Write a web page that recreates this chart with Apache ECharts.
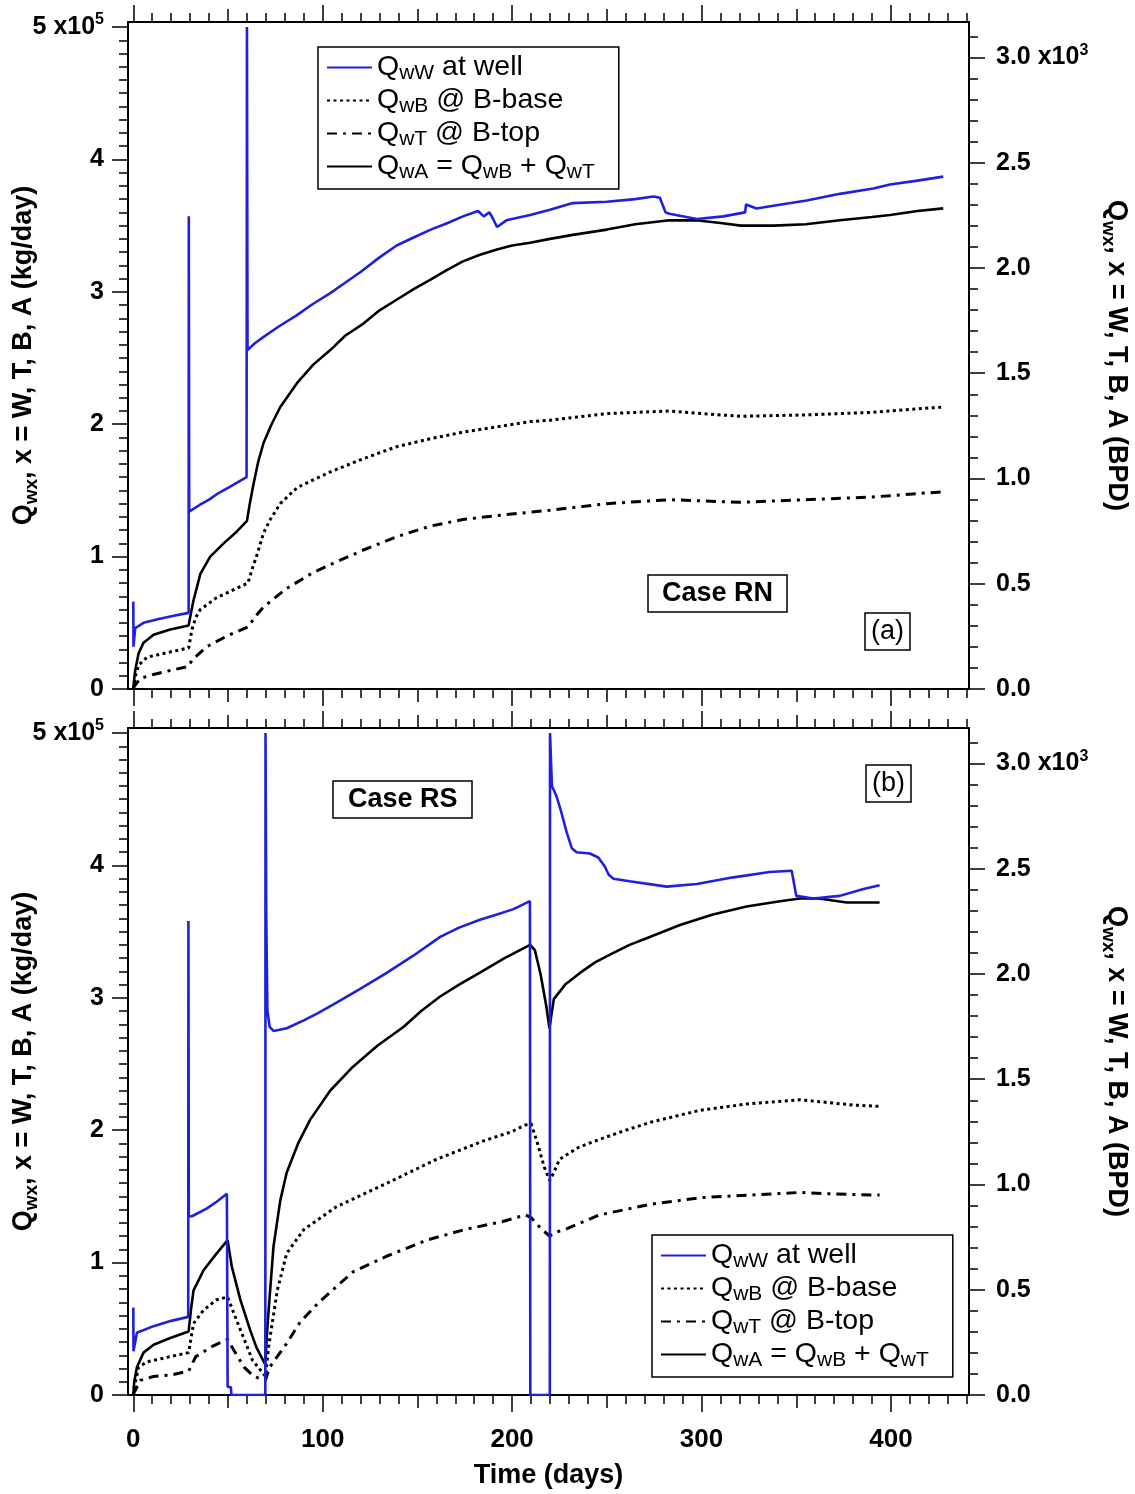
<!DOCTYPE html>
<html>
<head>
<meta charset="utf-8">
<title>Water rates, Case RN / RS</title>
<script src="https://cdn.jsdelivr.net/npm/echarts@6/dist/echarts.min.js"></script>
</head>
<body style="margin:0;background:#fff">
<div id="main" style="width:1135px;height:1494px;"></div>
<script>
// rates in 10^5 kg/day, time in days
// ---- panel (a), Case RN ----
var wellA = [[0,0.66],[0.1,0.32],[1,0.46],[5.4,0.50],[14,0.53],[22,0.555],[29.2,0.575],[29.3,3.57],[29.5,1.34],
  [35,1.39],[40,1.43],[45,1.48],[50,1.52],[55,1.56],[59.8,1.60],[60,5.0],[60.3,2.56],[64,2.61],[68.8,2.66],
  [77,2.74],[86,2.82],[95,2.91],[104,2.99],[112,3.07],[120,3.15],[130,3.26],[139,3.35],[148,3.41],[157,3.47],
  [166,3.52],[174,3.57],[182,3.61],[185,3.57],[188,3.60],[190,3.55],[192,3.49],[197,3.54],[209.5,3.58],
  [220,3.62],[232,3.67],[250,3.68],[265,3.70],[274.6,3.72],[278,3.71],[281,3.60],[283,3.59],[297.5,3.55],
  [311.5,3.57],[323,3.60],[323.5,3.66],[329,3.63],[342,3.66],[355.5,3.69],[373,3.74],[390.7,3.78],
  [399.5,3.81],[414,3.84],[427.6,3.87]];
var baseA = [[0,0],[0.5,0.04],[1,0.09],[2.8,0.18],[7.2,0.24],[19.5,0.28],[29.2,0.31],[31,0.45],[33,0.54],
  [35.4,0.60],[44,0.69],[53,0.75],[60.5,0.80],[62.6,0.90],[65,1.0],[68.8,1.18],[72.3,1.28],[77.6,1.40],
  [86.4,1.52],[95,1.58],[104,1.64],[121.5,1.74],[139,1.83],[156.7,1.89],[174,1.94],[192,1.98],[209.5,2.02],
  [220,2.03],[250,2.08],[283,2.10],[300,2.08],[320.7,2.06],[355,2.07],[390,2.09],[427.6,2.13]];
var topA = [[0,0],[0.5,0.02],[3.7,0.08],[10.7,0.11],[19.5,0.14],[29.2,0.17],[31,0.22],[38.9,0.32],[49.4,0.40],
  [60.8,0.47],[64,0.54],[68.8,0.62],[81,0.76],[95,0.88],[104,0.94],[121.5,1.05],[139,1.15],[156.7,1.23],
  [174,1.28],[192,1.31],[220,1.35],[250,1.40],[283,1.43],[320,1.41],[355,1.43],[390,1.45],[427.6,1.49]];
var sumA = [[0,0],[0.5,0.08],[1,0.14],[2.8,0.27],[5.4,0.35],[10.7,0.41],[19.5,0.45],[29.2,0.48],[30.5,0.58],
  [31.8,0.67],[35.4,0.87],[40.6,1.0],[47.7,1.10],[54.7,1.19],[60,1.27],[61.5,1.40],[63.5,1.55],[66,1.72],
  [68.8,1.86],[73,2.0],[77.6,2.13],[86.4,2.31],[95,2.45],[104,2.56],[112,2.67],[121.5,2.76],[130,2.86],
  [139,2.94],[148,3.02],[156.7,3.09],[165,3.16],[174,3.23],[183,3.28],[192,3.32],[200,3.35],[209.5,3.37],
  [220,3.40],[232,3.43],[250,3.47],[265,3.51],[283,3.54],[297,3.54],[310,3.52],[320.7,3.50],[338,3.50],
  [355,3.51],[373,3.54],[390,3.565],[399.5,3.58],[414,3.61],[427.6,3.63]];
// ---- panel (b), Case RS ----
var wellB = [[0,0.66],[0.1,0.33],[1.9,0.47],[10.7,0.52],[20,0.56],[29,0.59],[29.1,3.58],[29.3,1.35],[31,1.35],
  [38.9,1.41],[44,1.46],[49.4,1.52],[49.8,0.06],[51.5,0.06],[51.8,0],[69.7,0],[69.8,5.0],[70.2,3.6],
  [70.8,2.9],[72,2.78],[74,2.75],[81,2.77],[90,2.83],[97,2.88],[105.7,2.95],[120,3.07],[134,3.19],[148,3.32],
  [162,3.46],[172,3.53],[183,3.59],[192,3.63],[200.7,3.67],[209.4,3.73],[209.6,0],[219.9,0],[220,5.0],
  [221,4.6],[223.5,4.52],[226,4.40],[228.8,4.25],[231.5,4.13],[234,4.10],[241,4.09],[245.5,4.06],[249,3.99],
  [251,3.93],[253.5,3.90],[262,3.88],[281.6,3.84],[297.5,3.86],[316.8,3.91],[336,3.95],[347.6,3.96],
  [350,3.77],[359,3.75],[373,3.77],[385,3.82],[394,3.85]];
var baseB = [[0,0],[0.5,0.06],[2.8,0.21],[7.2,0.25],[19.5,0.29],[29.2,0.32],[31.8,0.54],[37,0.64],[44,0.72],
  [49.8,0.74],[53,0.62],[58,0.44],[63,0.26],[68.8,0.16],[69.8,0.14],[71.5,0.37],[76,0.79],[81,1.07],[90,1.25],
  [107,1.42],[134,1.60],[160,1.78],[185,1.92],[200,1.99],[207,2.04],[210,2.05],[213,1.92],[217,1.72],
  [219.8,1.62],[222,1.68],[225,1.78],[235,1.87],[246,1.93],[260,2.0],[273,2.06],[299,2.15],[325,2.20],
  [352,2.23],[366,2.21],[380,2.19],[394,2.18]];
var topB = [[0,0],[0.5,0.02],[3.7,0.11],[10.7,0.14],[19.5,0.15],[29.2,0.18],[33,0.29],[42,0.37],[49.8,0.42],
  [53,0.34],[58.5,0.21],[63.7,0.14],[69.7,0.11],[72,0.21],[81,0.39],[88,0.55],[98,0.70],[116,0.93],[134,1.05],
  [155,1.17],[175,1.25],[195,1.31],[207,1.36],[210,1.34],[215,1.26],[219.8,1.20],[223,1.23],[228,1.25],
  [246,1.36],[273,1.44],[299,1.49],[325,1.51],[352,1.53],[366,1.52],[394,1.51]];
var sumB = [[0,0],[0.5,0.1],[1.9,0.21],[5.4,0.32],[10.7,0.38],[19.5,0.43],[29.2,0.48],[30.5,0.65],[31.8,0.79],
  [37,0.94],[44,1.07],[49.8,1.17],[52,0.97],[56.5,0.72],[61.7,0.49],[65,0.36],[69.7,0.23],[70.5,0.45],
  [71.5,0.65],[74,1.12],[77.6,1.47],[81,1.68],[87,1.90],[93.4,2.08],[104,2.30],[116,2.48],[129,2.64],
  [142.6,2.78],[152,2.90],[162,3.01],[172,3.10],[183,3.19],[196,3.30],[209.5,3.40],[212,3.36],[215,3.18],
  [218,2.94],[219.7,2.77],[222,2.99],[228,3.10],[236,3.19],[244,3.27],[253.5,3.34],[262,3.40],[271,3.45],
  [288.6,3.55],[306,3.63],[323.8,3.69],[341.4,3.73],[352,3.75],[362,3.75],[376.6,3.72],[394,3.72]];

var xMajor = [0, 100, 200, 300, 400];
var xMid = [50, 150, 250, 350];
var yLeftMajor = [0, 1, 2, 3, 4, 5];          // x10^5 kg/day
var yRightMajor = [0, 0.5, 1, 1.5, 2, 2.5, 3]; // x10^3 BPD

var xMinor = [], yLeftMinor = [], yRightMinor = [];
for (var i = 0; i <= 44; i++) xMinor.push(i * 10);
for (var i = 0; i <= 50; i++) yLeftMinor.push(+(i * 0.1).toFixed(1));
for (var i = 0; i <= 31; i++) yRightMinor.push(+(i * 0.1).toFixed(1));

var FONT = 'Liberation Sans';
var XMIN = -2.8, XMAX = 441.2, YMAX = 5.038;
var RMAX = YMAX * 100 / 159;   // 1 bbl of water ~ 159 kg
var BLUE = '#1f1fe0';

var supRich = {
  n: {fontSize: 25, fontWeight: 'bold', fontFamily: FONT, color: '#000', lineHeight: 30},
  sup: {fontSize: 16, fontWeight: 'bold', fontFamily: FONT, color: '#000', lineHeight: 16, verticalAlign: 'top'}
};
var nameRich = {
  q: {fontSize: 27, fontWeight: 'bold', fontFamily: FONT, color: '#000', lineHeight: 34},
  s: {fontSize: 19, fontWeight: 'bold', fontFamily: FONT, color: '#000', lineHeight: 18, verticalAlign: 'bottom'}
};

function xAx(g, pos, ticks, len, main, labels) {
  return {
    type: 'value', gridIndex: g, position: pos, min: XMIN, max: XMAX,
    axisLine: {show: main, onZero: false, lineStyle: {color: '#000', width: 2}},
    axisTick: {show: true, inside: false, length: len, customValues: ticks, lineStyle: {color: '#000', width: 1.5}},
    axisLabel: {show: labels, customValues: xMajor, margin: 32, color: '#000', fontSize: 26,
      fontWeight: 'bold', fontFamily: FONT},
    splitLine: {show: false}
  };
}
function yAx(g, pos, max, ticks, len, main, labelVals, fmt, margin) {
  return {
    type: 'value', gridIndex: g, position: pos, min: 0, max: max,
    axisLine: {show: main, onZero: false, lineStyle: {color: '#000', width: 2}},
    axisTick: {show: true, inside: false, length: len, customValues: ticks, lineStyle: {color: '#000', width: 1.5}},
    axisLabel: {show: !!labelVals, customValues: labelVals || [], margin: margin, formatter: fmt, rich: supRich},
    splitLine: {show: false}
  };
}
function leftFmt(v) { return Math.abs(v - 5) < 1e-6 ? '{n|5 x10}{sup|5}' : '{n|' + Math.round(v) + '}'; }
function rightFmt(v) { return Math.abs(v - 3) < 1e-6 ? '{n|3.0 x10}{sup|3}' : '{n|' + v.toFixed(1) + '}'; }

var xAxes = [], yAxes = [];
[0, 1].forEach(function (g) {
  xAxes.push(xAx(g, 'bottom', xMajor, 17, true, g === 1));
  xAxes.push(xAx(g, 'bottom', xMid, 13, false, false));
  xAxes.push(xAx(g, 'bottom', xMinor, 9, false, false));
  xAxes.push(xAx(g, 'top', xMajor, 17, true, false));
  xAxes.push(xAx(g, 'top', xMid, 13, false, false));
  xAxes.push(xAx(g, 'top', xMinor, 9, false, false));
  var l = yAx(g, 'left', YMAX, yLeftMajor, 16, true, yLeftMajor, leftFmt, 24);
  l.name = '{q|Q}{s|wx}{q|, x = W, T, B, A (kg/day)}';
  l.nameLocation = 'middle'; l.nameGap = 87; l.nameRotate = 90; l.nameMoveOverlap = false;
  l.nameTextStyle = {rich: nameRich};
  yAxes.push(l);
  yAxes.push(yAx(g, 'left', YMAX, yLeftMinor, 9, false, null, null, 0));
  var r = yAx(g, 'right', RMAX, yRightMajor, 16, true, yRightMajor, rightFmt, 27);
  r.name = '{q|Q}{s|wx}{q|, x = W, T, B, A (BPD)}';
  r.nameLocation = 'middle'; r.nameGap = 130; r.nameRotate = -90; r.nameMoveOverlap = false;
  r.nameTextStyle = {rich: nameRich};
  yAxes.push(r);
  yAxes.push(yAx(g, 'right', RMAX, yRightMinor, 9, false, null, null, 0));
});
xAxes[6].name = 'Time (days)';
xAxes[6].nameLocation = 'middle';
xAxes[6].nameGap = 67;
xAxes[6].nameMoveOverlap = false;
xAxes[6].nameTextStyle = {fontSize: 27, fontWeight: 'bold', fontFamily: FONT, color: '#000'};

function mk(name, data, g, style) {
  return {
    name: name, type: 'line', xAxisIndex: g * 6, yAxisIndex: g * 4, data: data,
    symbol: 'none', smooth: false, lineStyle: style, itemStyle: {color: style.color},
    z: name === 'wW' ? 3 : 2
  };
}
var sWell = {color: BLUE, width: 2.6};
var sBase = {color: '#000', width: 3, type: [3, 3.5]};
var sTop = {color: '#000', width: 3, type: [10, 6, 3, 6]};
var sSum = {color: '#000', width: 2.6};

var legRich = {
  q: {fontSize: 28.5, fontFamily: FONT, color: '#000', lineHeight: 33},
  s: {fontSize: 21, fontFamily: FONT, color: '#000', lineHeight: 18, verticalAlign: 'bottom'}
};
var legText = {
  wW: '{q|Q}{s|wW}{q| at well}',
  wB: '{q|Q}{s|wB}{q| @ B-base}',
  wT: '{q|Q}{s|wT}{q| @ B-top}',
  wA: '{q|Q}{s|wA}{q| = Q}{s|wB}{q| + Q}{s|wT}'
};
function legend(left, top) {
  return {
    left: left, top: top, orient: 'vertical', itemWidth: 45, itemHeight: 14, itemGap: 2,
    padding: [6, 24, 6, 8], borderColor: '#000', borderWidth: 1.5, backgroundColor: '#fff',
    selectedMode: false, data: ['wW', 'wB', 'wT', 'wA'],
    itemStyle: {opacity: 0},
    formatter: function (n) { return legText[n]; },
    textStyle: {rich: legRich}
  };
}
function box(text, left, top, bold, pad) {
  return {
    text: text, left: left, top: top, padding: pad, borderColor: '#000', borderWidth: 1.5,
    textStyle: {fontSize: 27, fontWeight: bold ? 'bold' : 'normal', fontFamily: FONT, color: '#000'}
  };
}

var chart = echarts.init(document.getElementById('main'));
chart.setOption({
  animation: false,
  backgroundColor: '#fff',
  grid: [
    {left: 128, right: 166, top: 22, height: 667, outerBoundsMode: 'none', containLabel: false},
    {left: 128, right: 166, top: 728, height: 667, outerBoundsMode: 'none', containLabel: false}
  ],
  xAxis: xAxes,
  yAxis: yAxes,
  legend: [legend(318, 47), legend(652, 1235)],
  title: [
    box('Case RN', 648, 575, true, [5, 14]),
    box('(a)', 865, 613, false, [5, 6]),
    box('Case RS', 333, 781, true, [5, 15]),
    box('(b)', 866, 765, false, [5, 6])
  ],
  series: [
    mk('wB', baseA, 0, sBase), mk('wT', topA, 0, sTop), mk('wA', sumA, 0, sSum), mk('wW', wellA, 0, sWell),
    mk('wB', baseB, 1, sBase), mk('wT', topB, 1, sTop), mk('wA', sumB, 1, sSum), mk('wW', wellB, 1, sWell)
  ]
});
</script>
</body>
</html>
